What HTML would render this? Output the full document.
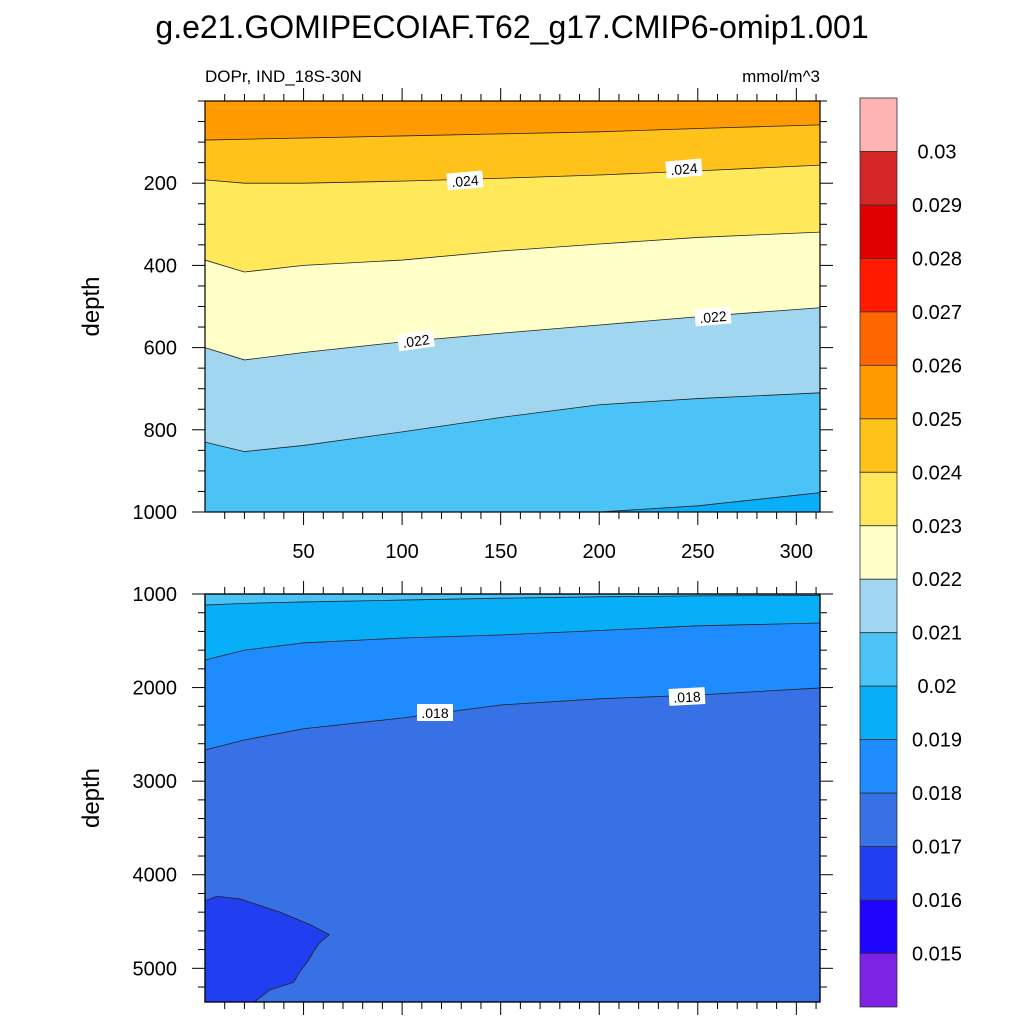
<!DOCTYPE html>
<html><head><meta charset="utf-8"><style>
body{margin:0;background:#fff;}
svg{display:block;font-family:"Liberation Sans",sans-serif;}
</style></head><body>
<svg id="chart" width="1024" height="1024" viewBox="0 0 1024 1024">
<text x="512" y="38" text-anchor="middle" font-size="32">g.e21.GOMIPECOIAF.T62_g17.CMIP6-omip1.001</text>
<text x="205" y="82" font-size="17">DOPr, IND_18S-30N</text>
<text x="820" y="82" text-anchor="end" font-size="17">mmol/m^3</text>
<g id="top"></g><g id="bot"></g><g id="cbar"></g>
</svg>
<script>
// ---- data ----
const topYears = [0, 20, 50, 100, 150, 200, 250, 312];
const topB1 = [95, 93, 90, 85, 80, 75, 67, 58];          // .025/.024
const topB2 = [192, 200, 200, 195, 188, 180, 170, 156];  // .024/.023
const topB3 = [387, 416, 400, 387, 365, 348, 332, 319];  // .023/.022
const topB4 = [600, 630, 612, 586, 565, 545, 525, 503];  // .022/.021
const topB5 = [830, 853, 838, 805, 770, 739, 724, 710];  // .021/.020
const topB6 = [1000, 1000, 1000, 1000, 1000, 1000, 985, 953]; // .020/.019
const botYears = [0, 20, 50, 100, 150, 200, 250, 312];
const botB1 = [1118, 1100, 1085, 1065, 1045, 1030, 1020, 1015]; // .021/.020
const botB2 = [1705, 1600, 1523, 1470, 1438, 1390, 1340, 1310]; // .020/.019
const botB3 = [2667, 2560, 2440, 2325, 2186, 2120, 2079, 2004]; // .019/.018
const pocketYears = [0, 6, 18, 38, 53, 63, 58, 56, 52, 48, 45, 33, 25, 0];
const pocketDepths = [4280, 4230, 4260, 4400, 4530, 4640, 4730, 4790, 4930, 5040, 5150, 5230, 5360, 5360];
const cbLabels = ["0.03","0.029","0.028","0.027","0.026","0.025","0.024","0.023","0.022","0.021","0.02","0.019","0.018","0.017","0.016","0.015"];
const cbColors = ["#ffb3b3","#d42626","#e10000","#ff1a00","#ff6600","#ff9a00","#ffc21a","#ffe95a","#ffffc8","#a0d6f0","#4bc3f7","#07aff9","#1e8cff","#3870e6","#213ff0","#1f05ff","#7e22e6"];
const xTicks = [50,100,150,200,250,300];
const topYTicks = [200,400,600,800,1000];
const botYTicks = [1000,2000,3000,4000,5000];
// ---- axes ----
const NS="http://www.w3.org/2000/svg";
const X0=205,X1=820,XMAX=312;
const xs=v=>X0+(v/XMAX)*(X1-X0);
const T={y0:101,y1:512,d0:0,d1:1000};
const B={y0:594,y1:1002,d0:1000,d1:5360};
const ys=(p,d)=>p.y0+(d-p.d0)/(p.d1-p.d0)*(p.y1-p.y0);
function el(tag,attrs,parent){const e=document.createElementNS(NS,tag);for(const k in attrs)e.setAttribute(k,attrs[k]);parent.appendChild(e);return e;}
function above(p,yrs,b){let s=`M${xs(yrs[0])},${p.y0}`;yrs.forEach((y,i)=>{s+=` L${xs(y)},${ys(p,b[i])}`;});s+=` L${xs(yrs[yrs.length-1])},${p.y0} Z`;return s;}
function line(p,yrs,b){return yrs.map((y,i)=>(i?'L':'M')+xs(y)+','+ys(p,b[i])).join(' ');}
function panel(g,p,bounds,yrs,colors,base,yt,minorStep,name){
  const r=el('rect',{x:X0,y:p.y0,width:X1-X0,height:p.y1-p.y0,fill:base},g);
  
  
  for(let i=bounds.length-1;i>=0;i--){
    const f=el('path',{d:above(p,yrs,bounds[i]),fill:colors[i]},g);
    
    
  }
  bounds.forEach((b,i)=>{
    const l=el('path',{d:line(p,yrs,b),fill:'none',stroke:'#222','stroke-width':0.8},g);
    
    
  });
  for(let v=10;v<XMAX;v+=10){
    const big=v%50===0,L=big?13:7;
    el('line',{x1:xs(v),x2:xs(v),y1:p.y1,y2:p.y1+L,stroke:'#000','stroke-width':1},g);
    el('line',{x1:xs(v),x2:xs(v),y1:p.y0,y2:p.y0-L,stroke:'#000','stroke-width':1},g);
  }
  for(let d=Math.ceil(p.d0/minorStep)*minorStep;d<=p.d1;d+=minorStep){
    const big=yt.includes(d),L=big?13:7,y=ys(p,d);
    el('line',{x1:X0,x2:X0-L,y1:y,y2:y,stroke:'#000','stroke-width':1},g);
    el('line',{x1:X1,x2:X1+L,y1:y,y2:y,stroke:'#000','stroke-width':1},g);
  }
  yt.forEach(d=>{
    const t=el('text',{x:177,y:ys(p,d)+7,'text-anchor':'end','font-size':20},g);t.textContent=d;
    
    
  });
  const fr=el('rect',{x:X0,y:p.y0,width:X1-X0,height:p.y1-p.y0,fill:'none',stroke:'#000','stroke-width':1.2},g);
  
  
  const yl=el('text',{transform:`translate(99,${(p.y0+p.y1)/2}) rotate(-90)`,'text-anchor':'middle','font-size':24},g);
  yl.textContent='depth';
  
  
}
function clabel(g,x,y,txt,rot){
  const gg=el('g',{transform:`translate(${x},${y}) rotate(${rot})`},g);
  
  
  el('rect',{x:-18,y:-9,width:36,height:17,fill:'#fff'},gg);
  const t=el('text',{x:0,y:5,'text-anchor':'middle','font-size':14},gg);t.textContent=txt;
}
const gt=document.getElementById('top'),gb=document.getElementById('bot');
panel(gt,T,[topB1,topB2,topB3,topB4,topB5,topB6],topYears,["#ff9a00","#ffc21a","#ffe95a","#ffffc8","#a0d6f0","#4bc3f7"],"#07aff9",topYTicks,50,'top-panel');
xTicks.forEach(v=>{const t=el('text',{x:xs(v),y:558,'text-anchor':'middle','font-size':20},gt);t.textContent=v;
  
  });
clabel(gt,465,181,'.024',-5);clabel(gt,684,169,'.024',-5);
clabel(gt,416,341,'.022',-8);clabel(gt,713,317,'.022',-5);
panel(gb,B,[botB1,botB2,botB3],botYears,["#4bc3f7","#07aff9","#1e8cff"],"#3870e6",botYTicks,200,'bottom-panel');
const pk=el('path',{d:pocketYears.map((y,i)=>(i?'L':'M')+xs(y)+','+Math.min(ys(B,pocketDepths[i]),B.y1)).join(' ')+' Z',fill:'#213ff0',stroke:'#222','stroke-width':0.8},gb);


el('rect',{x:X0,y:B.y0,width:X1-X0,height:B.y1-B.y0,fill:'none',stroke:'#000','stroke-width':1.2},gb);
clabel(gb,435,713,'.018',0);clabel(gb,687,697,'.018',-3);
const gc=document.getElementById('cbar');
const cy0=98,cy1=1007,bh=(cy1-cy0)/cbColors.length;
cbColors.forEach((c,i)=>{const r=el('rect',{x:860,y:cy0+i*bh,width:37,height:bh,fill:c,stroke:'#333','stroke-width':0.8},gc);
  
  });
cbLabels.forEach((s,i)=>{const t=el('text',{x:937,y:cy0+(i+1)*bh+7,'text-anchor':'middle','font-size':20},gc);t.textContent=s;
  
  });
</script>
</body></html>
